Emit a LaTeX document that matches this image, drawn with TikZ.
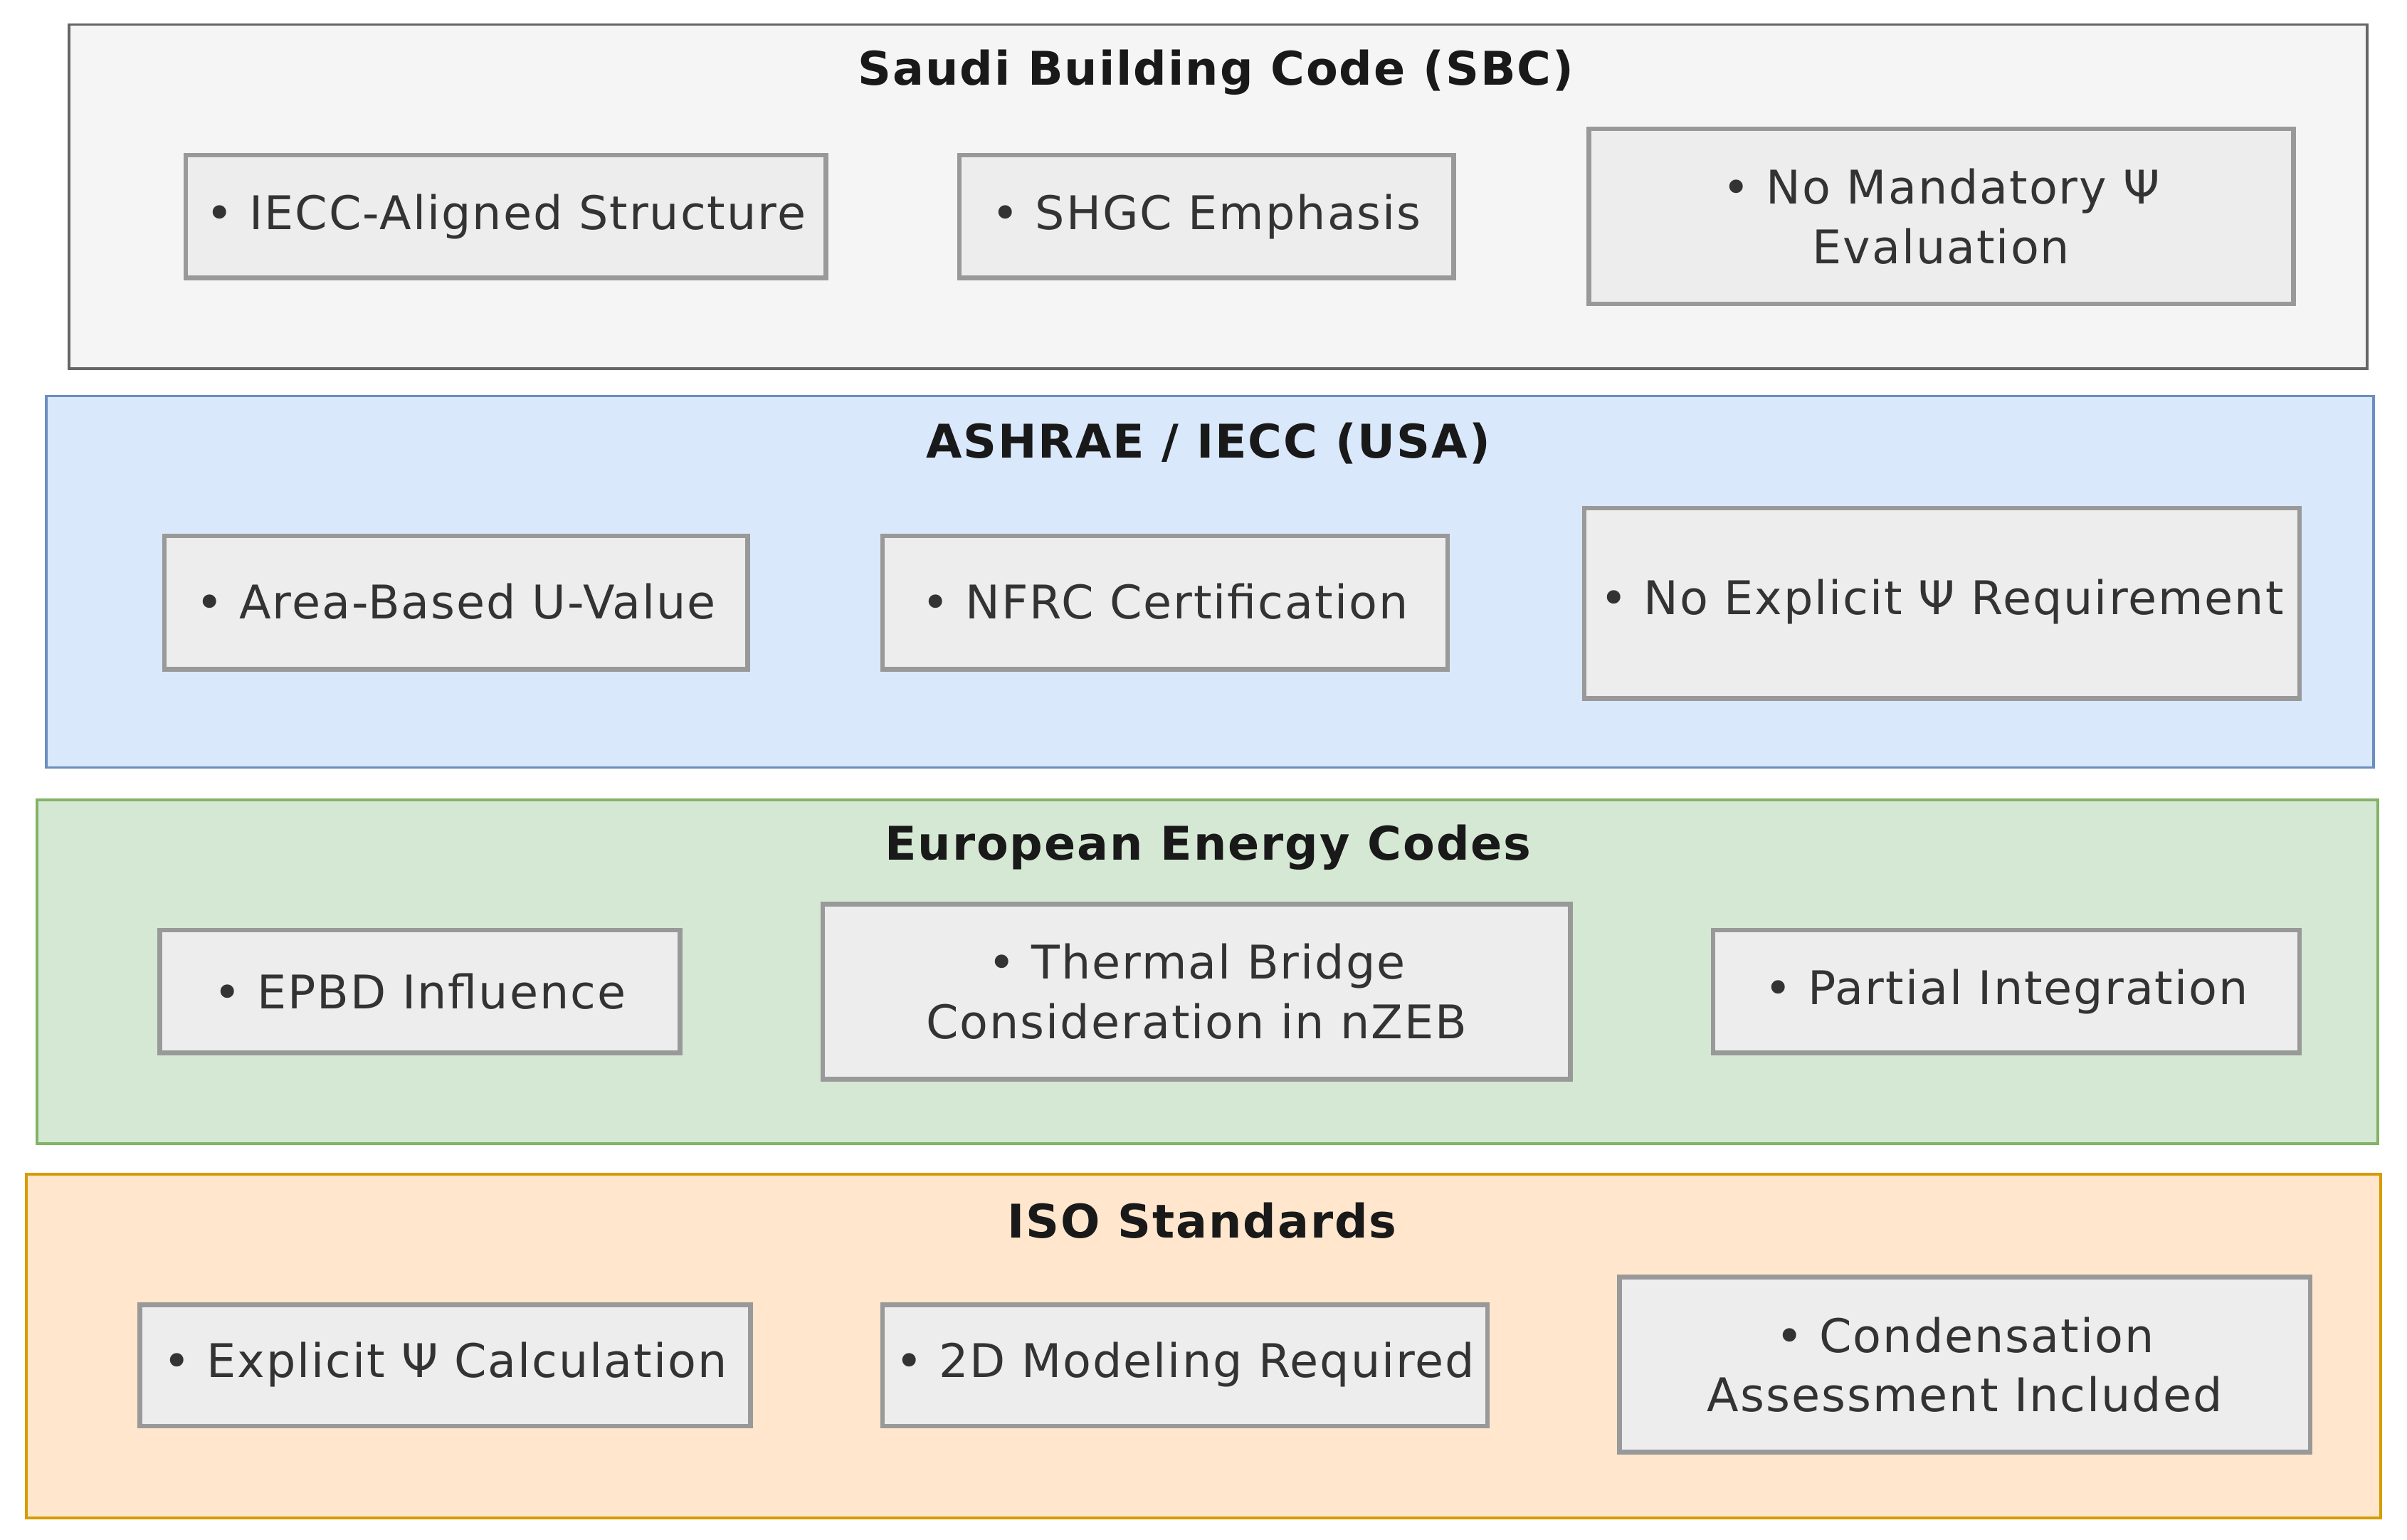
\documentclass[tikz,border=0pt]{standalone}
\usepackage{fontspec}
\setmainfont{DejaVu Sans}[LetterSpace=3]
\begin{document}
\begin{tikzpicture}[x=0.1mm,y=-0.1mm,
 panel/.style={line width=0.18mm},
 item/.style={draw=black!40,fill=black!7,line width=0.3mm},
 txt/.style={font=\fontsize{8.6pt}{11pt}\selectfont,text=black!80,align=center},
 ttl/.style={font=\fontsize{8.6pt}{10pt}\selectfont\bfseries,text=black!90}]
\useasboundingbox (0,0) rectangle (1568,1003);
\definecolor{g1}{HTML}{F5F5F5}\definecolor{g1b}{HTML}{666666}
\definecolor{b1}{HTML}{DAE8FC}\definecolor{b1b}{HTML}{6C8EBF}
\definecolor{gr}{HTML}{D5E8D4}\definecolor{grb}{HTML}{82B366}
\definecolor{o1}{HTML}{FFE6CC}\definecolor{o1b}{HTML}{D79B00}
% panels
\draw[panel,fill=g1,draw=g1b] (45,16) rectangle (1542,240);
\draw[panel,fill=b1,draw=b1b] (30,258) rectangle (1546,500);
\draw[panel,fill=gr,draw=grb] (24,521) rectangle (1549,745);
\draw[panel,fill=o1,draw=o1b] (17,765) rectangle (1551,989);
\node[ttl] (t1) at (792,47) {Saudi Building Code (SBC)};
\node[ttl] (t2) at (787,289) {ASHRAE / IECC (USA)};
\node[ttl] (t3) at (787,552) {European Energy Codes};
\node[ttl] (t4) at (783,795) {ISO Standards};
% items
\draw[item] (121,101) rectangle (538,181); \node[txt] (a1) at (329.5,141) {• IECC-Aligned Structure};
\draw[item] (625,101) rectangle (947,181); \node[txt] (a2) at (786,141) {• SHGC Emphasis};
\draw[item] (1035,84) rectangle (1494,198); \node[txt] (a3) at (1264.5,141) {• No Mandatory Ψ\\Evaluation};
\draw[item] (107,349) rectangle (487,436); \node[txt] (b1n) at (297,392) {• Area-Based U-Value};
\draw[item] (575,349) rectangle (943,436); \node[txt] (b2) at (759,392) {• NFRC Certification};
\draw[item] (1032,331) rectangle (1498,455); \node[txt] (b3) at (1265,392) {• No Explicit Ψ Requirement};
\draw[item] (104,606) rectangle (443,686); \node[txt] (c1) at (273.5,646) {• EPBD Influence};
\draw[item] (536,589) rectangle (1023,703); \node[txt] (c2) at (779.5,646) {• Thermal Bridge\\Consideration in nZEB};
\draw[item] (1116,606) rectangle (1498,686); \node[txt] (c3) at (1307,646) {• Partial Integration};
\draw[item] (91,850) rectangle (489,929); \node[txt] (d1) at (290,889) {• Explicit Ψ Calculation};
\draw[item] (575,850) rectangle (969,929); \node[txt] (d2) at (772,889) {• 2D Modeling Required};
\draw[item] (1055,832) rectangle (1505,946); \node[txt] (d3) at (1280,889) {• Condensation\\Assessment Included};
\end{tikzpicture}
\end{document}
